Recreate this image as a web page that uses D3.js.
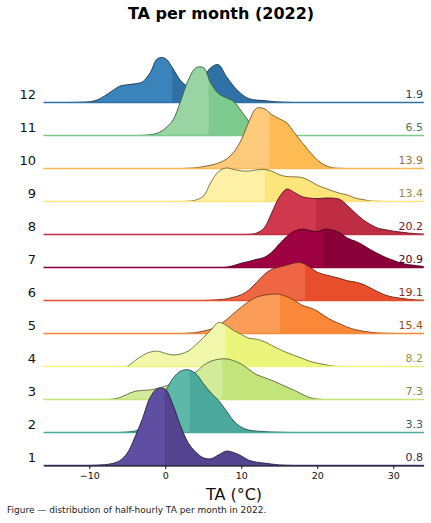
<!DOCTYPE html>
<html>
<head>
<meta charset="utf-8">
<script src="https://cdn.jsdelivr.net/npm/d3@7"></script>
<style>
  body { margin: 0; background: #fff; }
  svg { display: block; font-family: "DejaVu Sans", sans-serif; }
</style>
</head>
<body>
<svg id="chart" width="431" height="523"></svg>
<script>
// months, bottom (1) to top (12)
var months = [1, 2, 3, 4, 5, 6, 7, 8, 9, 10, 11, 12];
// value printed at the right of every ridge
var means = [0.8, 3.3, 7.3, 8.2, 15.4, 19.1, 20.9, 20.2, 13.4, 13.9, 6.5, 1.9];
// where the fill changes shade
var medians = [-0.1, 3.2, 7.5, 7.9, 15.1, 18.4, 20.8, 19.8, 13.1, 13.7, 5.7, 0.9];
// density (% of half-hours per °C), 1 °C steps starting at densStart
var densStart = [-9, -5, -7, -5, 3, 6, 8, 11, 3, 3, -3, -12];
var densJan = [0.06, 0.17, 0.4, 1.0, 2.6, 5.9, 9.8, 14.2, 16.1, 15.9, 12.7, 8.3, 4.8, 2.8, 1.6, 1.4, 2.2, 3.0, 2.7, 2.0, 1.1, 0.7, 0.5, 0.3, 0.12, 0.04];
var densFeb = [0.1, 0.3, 1.0, 2.7, 5.4, 8.5, 11.3, 12.8, 13.1, 12.3, 10.2, 8.3, 6.7, 4.6, 2.4, 1.1, 0.5, 0.3, 0.2, 0.1, 0.06, 0.02];
var densMar = [0.06, 0.4, 1.1, 1.7, 1.9, 2.0, 2.3, 2.8, 3.3, 4.1, 5.0, 5.7, 7.1, 8.0, 8.4, 8.5, 8.1, 7.4, 6.3, 5.2, 4.6, 4.0, 3.3, 2.6, 1.9, 1.1, 0.4, 0.1];
var densApr = [0.06, 1.2, 2.3, 3.0, 3.2, 2.75, 2.4, 2.6, 3.2, 4.5, 6.0, 7.6, 9.2, 8.6, 7.5, 6.7, 5.9, 5.7, 5.2, 4.4, 3.6, 2.9, 2.3, 1.7, 1.1, 0.7, 0.4, 0.1];
var densMay = [0.06, 0.2, 0.5, 0.9, 1.7, 2.8, 4.2, 5.5, 6.7, 7.6, 8.0, 8.2, 8.2, 7.7, 6.9, 5.9, 5.4, 4.7, 3.6, 2.7, 2.0, 1.3, 0.8, 0.5, 0.25, 0.12, 0.06, 0.02];
var densJun = [0.06, 0.17, 0.33, 0.7, 1.2, 2.2, 3.75, 5.4, 6.5, 7.0, 7.4, 7.85, 7.85, 7.0, 5.9, 5.4, 5.0, 4.6, 4.1, 3.85, 3.4, 2.6, 1.8, 1.1, 0.7, 0.46, 0.25, 0.12, 0.06];
var densJul = [0.06, 0.4, 0.9, 1.25, 1.7, 2.1, 3.2, 4.9, 6.5, 7.6, 8.0, 7.75, 7.5, 8.0, 7.8, 7.2, 6.1, 5.5, 4.7, 3.7, 2.85, 2.1, 1.5, 0.9, 0.6, 0.4, 0.2];
var densAug = [0.04, 0.3, 1.35, 4.5, 7.8, 9.5, 8.75, 7.9, 7.6, 7.5, 7.6, 7.6, 7.3, 6.0, 4.5, 3.1, 2.1, 1.3, 1.0, 0.7, 0.5, 0.3, 0.17, 0.1];
var densSep = [0.06, 0.3, 1.1, 4.0, 6.25, 7.0, 6.7, 6.4, 6.35, 6.6, 6.7, 6.35, 5.6, 5.2, 5.15, 5.0, 4.3, 3.4, 2.8, 2.2, 1.7, 1.35, 0.7, 0.4, 0.12, 0.04];
var densOct = [0.06, 0.15, 0.4, 0.7, 1.15, 1.9, 3.4, 6.0, 9.8, 12.6, 12.5, 11.25, 10.4, 9.5, 7.4, 5.4, 3.5, 1.8, 0.67, 0.17, 0.04];
var densNov = [0.04, 0.17, 0.5, 1.5, 3.2, 7.1, 11.5, 14.1, 14.2, 10.9, 8.75, 7.9, 7.1, 5.1, 2.9, 1.15, 0.3, 0.06];
var densDec = [0.02, 0.06, 0.15, 0.5, 1.35, 2.4, 3.4, 3.7, 3.9, 4.3, 6.2, 9.2, 9.2, 7.1, 4.6, 3.4, 3.6, 5.2, 7.3, 7.9, 5.5, 3.4, 1.8, 0.8, 0.5, 0.4, 0.23, 0.1, 0.04];
var densities = [densJan, densFeb, densMar, densApr, densMay, densJun, densJul, densAug, densSep, densOct, densNov, densDec];
var xTicks = [-10, 0, 10, 20, 30];

// two shades per month: left of the median / right of it
var leftColors  = ['#5e4fa2', '#5cb8a8', '#d1eb9a', '#f1f8ab', '#fb9d59', '#ef6645', '#9e0142', '#d0384d', '#fef0a4', '#fdc97b', '#98d5a2', '#3a84bb'];
var rightColors = ['#54448f', '#4aa99b', '#c2e47a', '#ebf57c', '#fb8838', '#e84e2c', '#890038', '#be2d44', '#fee57b', '#fdbb54', '#7dcb8d', '#2f70a6'];

var W = 431, H = 523;
var svg = d3.select('#chart');
var defs = svg.append('defs');

var x = d3.scaleLinear().domain([-16, 34]).range([43.7, 423.7]);
var base = d3.scaleLinear().domain([1, 12]).range([465.5, 102.5]);
var h = d3.scaleLinear().domain([0, 16.5]).range([0, 79]);
var grid = d3.range(-16, 35);

var rows = months.map(function(m, i){
  var arr = densities[i], s = densStart[i];
  return {
    month: m,
    mean: means[i],
    median: medians[i],
    left: leftColors[i],
    right: rightColors[i],
    pts: grid.map(function(t){
      var v = arr[t - s];
      return { t: t, v: v == null ? 0 : v };
    })
  };
});

var curve = d3.curveCatmullRom.alpha(0.5);

// top ridge first so the lower ones sit in front
rows.slice().reverse().forEach(function(r){
  var b = base(r.month);
  var g = svg.append('g').attr('class', 'ridge m' + r.month);
  var area = d3.area().curve(curve)
    .x(function(d){ return x(d.t); })
    .y0(b)
    .y1(function(d){ return b - h(d.v); });
  var line = d3.line().curve(curve)
    .x(function(d){ return x(d.t); })
    .y(function(d){ return Math.min(b, b - h(d.v)); });

  ['L', 'R'].forEach(function(side){
    // left half overlaps a little so no seam shows at the split
    var x0 = side === 'L' ? 0 : x(r.median);
    var x1 = side === 'L' ? x(r.median) + 1 : W;
    defs.append('clipPath').attr('id', 'c' + side + r.month)
      .append('rect').attr('x', x0).attr('y', b - 160).attr('width', x1 - x0).attr('height', 160);
    g.append('path').datum(r.pts)
      .attr('d', area)
      .attr('fill', side === 'L' ? r.left : r.right)
      .attr('clip-path', 'url(#c' + side + r.month + ')');
  });
  defs.append('clipPath').attr('id', 'cT' + r.month)
    .append('rect').attr('x', 0).attr('y', b - 160).attr('width', W).attr('height', 160.4);
  g.append('path').datum(r.pts)
    .attr('d', line)
    .attr('fill', 'none')
    .attr('stroke', d3.rgb(r.right).darker(2.2))
    .attr('stroke-width', 0.9)
    .attr('clip-path', 'url(#cT' + r.month + ')');
  g.append('line')
    .attr('x1', x.range()[0]).attr('x2', x.range()[1])
    .attr('y1', b).attr('y2', b)
    .attr('stroke', r.right)
    .attr('stroke-width', 1.5);
});

// month names on the left, mean on the right
svg.append('g').selectAll('text')
  .data(rows)
  .join('text')
  .attr('x', 36)
  .attr('y', function(r){ return base(r.month) - 3.5; })
  .attr('text-anchor', 'end')
  .attr('font-size', 13)
  .attr('fill', '#111')
  .text(function(r){ return r.month; });

svg.append('g').selectAll('text')
  .data(rows)
  .join('text')
  .attr('x', 423)
  .attr('y', function(r){ return base(r.month) - 4.5; })
  .attr('text-anchor', 'end')
  .attr('font-size', 11)
  .attr('fill', function(r){ return d3.rgb(r.right).darker(1.4); })
  .text(function(r){ return r.mean.toFixed(1); });

// x axis
var axis = d3.axisBottom(x)
  .tickValues(xTicks)
  .tickSize(3.5)
  .tickSizeOuter(0)
  .tickFormat(function(d){ return d < 0 ? '\u2212' + Math.abs(d) : d; });
var ax = svg.append('g')
  .attr('transform', 'translate(0,' + base(1) + ')')
  .call(axis);
ax.select('.domain').attr('stroke', '#111').attr('stroke-width', 1.2);
ax.selectAll('.tick line').attr('stroke', '#111');
ax.selectAll('.tick text')
  .attr('font-family', '"DejaVu Sans", sans-serif')
  .attr('font-size', 9.5)
  .attr('fill', '#111');

svg.append('text')
  .attr('x', 234).attr('y', 499.5)
  .attr('text-anchor', 'middle')
  .attr('font-size', 16)
  .attr('fill', '#111')
  .text('TA (°C)');

svg.append('text')
  .attr('x', 221).attr('y', 19)
  .attr('text-anchor', 'middle')
  .attr('font-size', 16)
  .attr('font-weight', 'bold')
  .attr('fill', '#000')
  .text('TA per month (2022)');

svg.append('text')
  .attr('x', 7).attr('y', 513)
  .attr('font-size', 9)
  .attr('fill', '#222')
  .text('Figure \u2014 distribution of half-hourly TA per month in 2022.');
</script>
</body>
</html>
